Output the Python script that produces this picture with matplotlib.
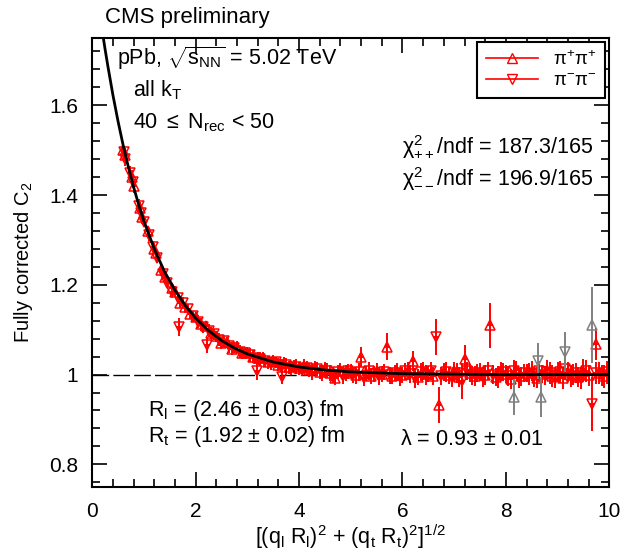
import numpy as np
import matplotlib
matplotlib.use("Agg")
import matplotlib.pyplot as plt
from matplotlib.lines import Line2D
from matplotlib.ticker import MultipleLocator

plt.rcParams['font.family'] = ['Liberation Sans', 'DejaVu Sans']
plt.rcParams['mathtext.fontset'] = 'custom'
plt.rcParams['mathtext.rm'] = 'Liberation Sans'
plt.rcParams['mathtext.it'] = 'Liberation Sans:italic'
plt.rcParams['mathtext.sf'] = 'Liberation Sans'

# pi+ pi+ (up triangles)
pp_x = [0.60, 0.63, 0.76, 0.80, 0.92, 0.97, 1.07, 1.20, 1.23, 1.33, 1.40, 1.55, 1.60, 1.70, 1.80, 1.90,
        2.0, 2.1, 2.2, 2.3, 2.4, 2.5, 2.6, 2.7, 2.8, 2.9, 3.0, 3.1, 3.2, 3.3, 3.4, 3.5, 3.6, 3.7, 3.8, 3.9,
        4.0, 4.1, 4.2, 4.3, 4.4, 4.5, 4.6, 4.7, 4.8, 4.9, 5.0, 5.1, 5.2, 5.3, 5.4, 5.5, 5.6, 5.7, 5.8, 5.9,
        6.0, 6.1, 6.2, 6.3, 6.4, 6.5, 6.6, 6.7, 6.8, 6.9, 7.0, 7.1, 7.2, 7.3, 7.4, 7.5, 7.6, 7.7, 7.8, 7.9,
        8.0, 8.1, 8.2, 8.3, 8.4, 8.5, 8.6, 8.7, 8.8, 8.9, 9.0, 9.1, 9.2, 9.3, 9.4, 9.5, 9.6, 9.75, 9.8, 9.9]
pp_y = [1.500, 1.490, 1.440, 1.420, 1.370, 1.350, 1.320, 1.280, 1.270, 1.232, 1.218, 1.192, 1.185, 1.160, 1.150, 1.135,
        1.128, 1.112, 1.108, 1.093, 1.085, 1.070, 1.072, 1.058, 1.062, 1.048, 1.049, 1.040, 1.036, 1.038, 1.027, 1.030,
        1.022, 1.026, 1.016, 1.020, 1.014, 1.019, 1.010, 1.015, 1.006, 1.012, 1.004, 0.992, 1.010, 1.003, 1.008, 0.998,
        1.040, 1.004, 0.996, 1.009, 1.001, 1.062, 0.997, 1.006, 0.999, 1.008, 1.030, 0.995, 1.007, 1.002, 0.996, 0.933,
        1.005, 0.998, 1.009, 0.994, 1.035, 1.003, 0.997, 1.006, 0.999, 1.110, 0.995, 1.007, 1.001, 0.990, 1.010, 0.996,
        1.004, 1.008, 0.993, 1.002, 1.011, 0.997, 1.005, 0.992, 1.006, 1.000, 0.995, 1.009, 0.998, 1.068, 1.003, 0.996]
pp_e = [0.015, 0.015, 0.015, 0.015, 0.015, 0.015, 0.012, 0.012, 0.012, 0.012, 0.012, 0.012, 0.012, 0.012, 0.012, 0.012,
        0.012, 0.014, 0.012, 0.014, 0.012, 0.014, 0.012, 0.014, 0.012, 0.014, 0.012, 0.014, 0.015, 0.013, 0.015, 0.013,
        0.015, 0.013, 0.015, 0.013, 0.015, 0.016, 0.015, 0.016, 0.015, 0.016, 0.018, 0.015, 0.016, 0.018, 0.016, 0.018,
        0.022, 0.016, 0.018, 0.016, 0.018, 0.030, 0.018, 0.020, 0.018, 0.020, 0.022, 0.018, 0.020, 0.018, 0.020, 0.040,
        0.020, 0.018, 0.020, 0.022, 0.030, 0.020, 0.022, 0.020, 0.022, 0.050, 0.020, 0.022, 0.020, 0.022, 0.020, 0.022,
        0.020, 0.022, 0.024, 0.020, 0.022, 0.024, 0.022, 0.025, 0.022, 0.024, 0.022, 0.025, 0.024, 0.035, 0.024, 0.025]

# pi- pi- (down triangles)
mm_x = [0.61, 0.64, 0.73, 0.78, 0.90, 0.95, 1.00, 1.09, 1.17, 1.26, 1.36, 1.45, 1.55, 1.65, 1.68, 1.75, 1.85, 1.95,
        2.05, 2.15, 2.22, 2.25, 2.35, 2.45, 2.55, 2.65, 2.75, 2.85, 2.95, 3.05, 3.15, 3.19, 3.25, 3.35, 3.45, 3.55,
        3.65, 3.68, 3.75, 3.85, 3.95, 4.05, 4.15, 4.25, 4.35, 4.45, 4.55, 4.65, 4.75, 4.85, 4.95, 5.05, 5.15, 5.25,
        5.35, 5.45, 5.55, 5.65, 5.75, 5.85, 5.95, 6.05, 6.15, 6.25, 6.35, 6.45, 6.55, 6.65, 6.75, 6.85, 6.95, 7.05,
        7.15, 7.25, 7.35, 7.45, 7.55, 7.65, 7.75, 7.85, 7.95, 8.05, 8.15, 8.25, 8.35, 8.45, 8.55, 8.65, 8.75, 8.85,
        8.95, 9.05, 9.15, 9.25, 9.35, 9.45, 9.55, 9.67, 9.75, 9.85, 9.95]
mm_y = [1.495, 1.480, 1.450, 1.430, 1.375, 1.360, 1.340, 1.310, 1.285, 1.260, 1.225, 1.205, 1.185, 1.170, 1.107, 1.160,
        1.145, 1.130, 1.118, 1.105, 1.065, 1.098, 1.090, 1.078, 1.074, 1.063, 1.060, 1.051, 1.047, 1.044, 1.036, 1.007,
        1.035, 1.031, 1.025, 1.027, 1.020, 0.995, 1.022, 1.015, 1.018, 1.011, 1.014, 1.006, 1.012, 1.004, 1.009, 0.999,
        1.006, 0.996, 1.007, 1.000, 1.005, 0.993, 1.008, 1.001, 0.996, 1.006, 0.998, 1.004, 0.994, 1.007, 1.001, 0.993,
        1.005, 0.999, 1.009, 1.084, 0.996, 1.006, 0.992, 1.003, 0.985, 1.007, 0.998, 1.004, 0.994, 1.008, 1.000, 0.995,
        1.006, 0.997, 1.009, 0.993, 1.004, 1.001, 0.995, 1.007, 0.998, 1.003, 0.991, 1.006, 1.012, 0.997, 1.004, 0.992,
        1.008, 0.935, 1.003, 0.998, 1.005]
mm_e = [0.015, 0.015, 0.015, 0.015, 0.015, 0.015, 0.012, 0.012, 0.012, 0.012, 0.012, 0.012, 0.012, 0.012, 0.020, 0.012,
        0.012, 0.012, 0.014, 0.012, 0.018, 0.014, 0.012, 0.014, 0.012, 0.014, 0.012, 0.014, 0.013, 0.015, 0.013, 0.020,
        0.015, 0.013, 0.015, 0.013, 0.015, 0.016, 0.016, 0.015, 0.016, 0.015, 0.016, 0.018, 0.016, 0.018, 0.016, 0.018,
        0.016, 0.018, 0.016, 0.018, 0.020, 0.018, 0.020, 0.018, 0.020, 0.018, 0.020, 0.018, 0.020, 0.018, 0.020, 0.022,
        0.020, 0.022, 0.020, 0.040, 0.020, 0.022, 0.020, 0.022, 0.040, 0.020, 0.022, 0.020, 0.022, 0.020, 0.022, 0.024,
        0.020, 0.022, 0.024, 0.022, 0.020, 0.024, 0.022, 0.024, 0.022, 0.024, 0.022, 0.024, 0.025, 0.024, 0.022, 0.025,
        0.024, 0.060, 0.025, 0.024, 0.025]

# excluded points (grey)
gpp_x = [8.16, 8.67, 9.67]
gpp_y = [0.950, 0.950, 1.110]
gpp_e = [0.040, 0.045, 0.085]
gmm_x = [8.63, 9.15]
gmm_y = [1.030, 1.050]
gmm_e = [0.040, 0.045]

# fit curve
fit_x = [0.15, 0.2, 0.25, 0.3, 0.4, 0.5, 0.6, 0.7, 0.8, 0.9, 1.0, 1.2, 1.4, 1.6, 1.8, 2.0, 2.25, 2.5, 2.75,
         3.0, 3.5, 4.0, 4.5, 5.0, 6.0, 7.0, 8.0, 9.0, 10.0]
fit_y = [1.800, 1.761, 1.724, 1.689, 1.623, 1.564, 1.510, 1.462, 1.418, 1.378, 1.342, 1.280, 1.229, 1.188, 1.154,
         1.126, 1.098, 1.076, 1.059, 1.046, 1.028, 1.017, 1.010, 1.006, 1.002, 1.001, 1.000, 1.000, 1.000]

fig = plt.figure(figsize=(6.23, 5.57), dpi=100)
ax = fig.add_axes([0.148, 0.126, 0.830, 0.806])

ax.axhline(1.0, color='black', lw=1.0, ls=(0, (12, 3)), zorder=1)

style = dict(capsize=0, elinewidth=1.4, lw=0, mfc='none', mew=1.1, ms=6.5)
ax.errorbar(pp_x, pp_y, yerr=pp_e, xerr=0.05, fmt='^', color='red', zorder=2, **style)
ax.errorbar(mm_x, mm_y, yerr=mm_e, xerr=0.05, fmt='v', color='red', zorder=2, **style)
ax.errorbar(gpp_x, gpp_y, yerr=gpp_e, fmt='^', color='grey', zorder=3, **style)
ax.errorbar(gmm_x, gmm_y, yerr=gmm_e, fmt='v', color='grey', zorder=3, **style)

ax.plot(fit_x, fit_y, color='black', lw=2, zorder=4)

ax.set_xlim(0, 10)
ax.set_ylim(0.75, 1.75)
ax.xaxis.set_major_locator(MultipleLocator(2))
ax.xaxis.set_minor_locator(MultipleLocator(0.4))
ax.yaxis.set_minor_locator(MultipleLocator(0.04))
ax.set_yticks([0.8, 1.0, 1.2, 1.4, 1.6])
ax.set_yticklabels(['0.8', '1', '1.2', '1.4', '1.6'])
ax.tick_params(which='both', direction='in', top=True, right=True, labelsize=15, width=1.2)
ax.tick_params(which='major', length=11)
ax.tick_params(which='minor', length=6)
ax.tick_params(axis='x', which='major', pad=11)
ax.tick_params(axis='y', which='major', pad=10)
for s in ax.spines.values():
    s.set_linewidth(1.5)

ax.set_xlabel(r'[(q$_{\rm l}$ R$_{\rm l}$)$^{2}$ + (q$_{\rm t}$ R$_{\rm t}$)$^{2}$]$^{1/2}$', fontsize=15.5, labelpad=1)
ax.set_ylabel(r'Fully corrected C$_2$', fontsize=14.5, labelpad=10)

fig.text(0.169, 0.968, 'CMS preliminary', fontsize=16, ha='left', va='center')
ax.text(0.048, 0.955, r'pPb, $\sqrt{\rm s_{NN}}$ = 5.02 TeV', transform=ax.transAxes, fontsize=15.5, va='center')
ax.text(0.078, 0.884, r'all k$_{\rm T}$', transform=ax.transAxes, fontsize=15.5, va='center')
ax.text(0.078, 0.81, r'40 $\leq$ N$_{\rm rec}$ < 50', transform=ax.transAxes, fontsize=15.5, va='center')
ax.text(0.969, 0.757, r'$\mathrm{\chi}^2_{++}$/ndf = 187.3/165', transform=ax.transAxes, fontsize=15.5, ha='right', va='center')
ax.text(0.969, 0.686, r'$\mathrm{\chi}^2_{--}$/ndf = 196.9/165', transform=ax.transAxes, fontsize=15.5, ha='right', va='center')
ax.text(0.107, 0.171, r'R$_{\rm l}$ = (2.46 $\pm$ 0.03) fm', transform=ax.transAxes, fontsize=15.5, va='center')
ax.text(0.107, 0.111, r'R$_{\rm t}$ = (1.92 $\pm$ 0.02) fm', transform=ax.transAxes, fontsize=15.5, va='center')
ax.text(0.595, 0.105, r'$\mathrm{\lambda}$ = 0.93 $\pm$ 0.01', transform=ax.transAxes, fontsize=15.5, va='center')

handles = [Line2D([], [], color='red', marker='^', mfc='none', ms=6.5, lw=1.2),
           Line2D([], [], color='red', marker='v', mfc='none', ms=6.5, lw=1.2)]
leg = ax.legend(handles, [r'$\mathrm{\pi}^{+}\mathrm{\pi}^{+}$', r'$\mathrm{\pi}^{-}\mathrm{\pi}^{-}$'],
                loc='upper right', bbox_to_anchor=(0.992, 0.991), borderaxespad=0, fontsize=13.5,
                fancybox=False, edgecolor='black', framealpha=1, handlelength=2.8, borderpad=0.45,
                labelspacing=0.2)
leg.get_frame().set_linewidth(1.5)

fig.savefig('out.png', dpi=100)
